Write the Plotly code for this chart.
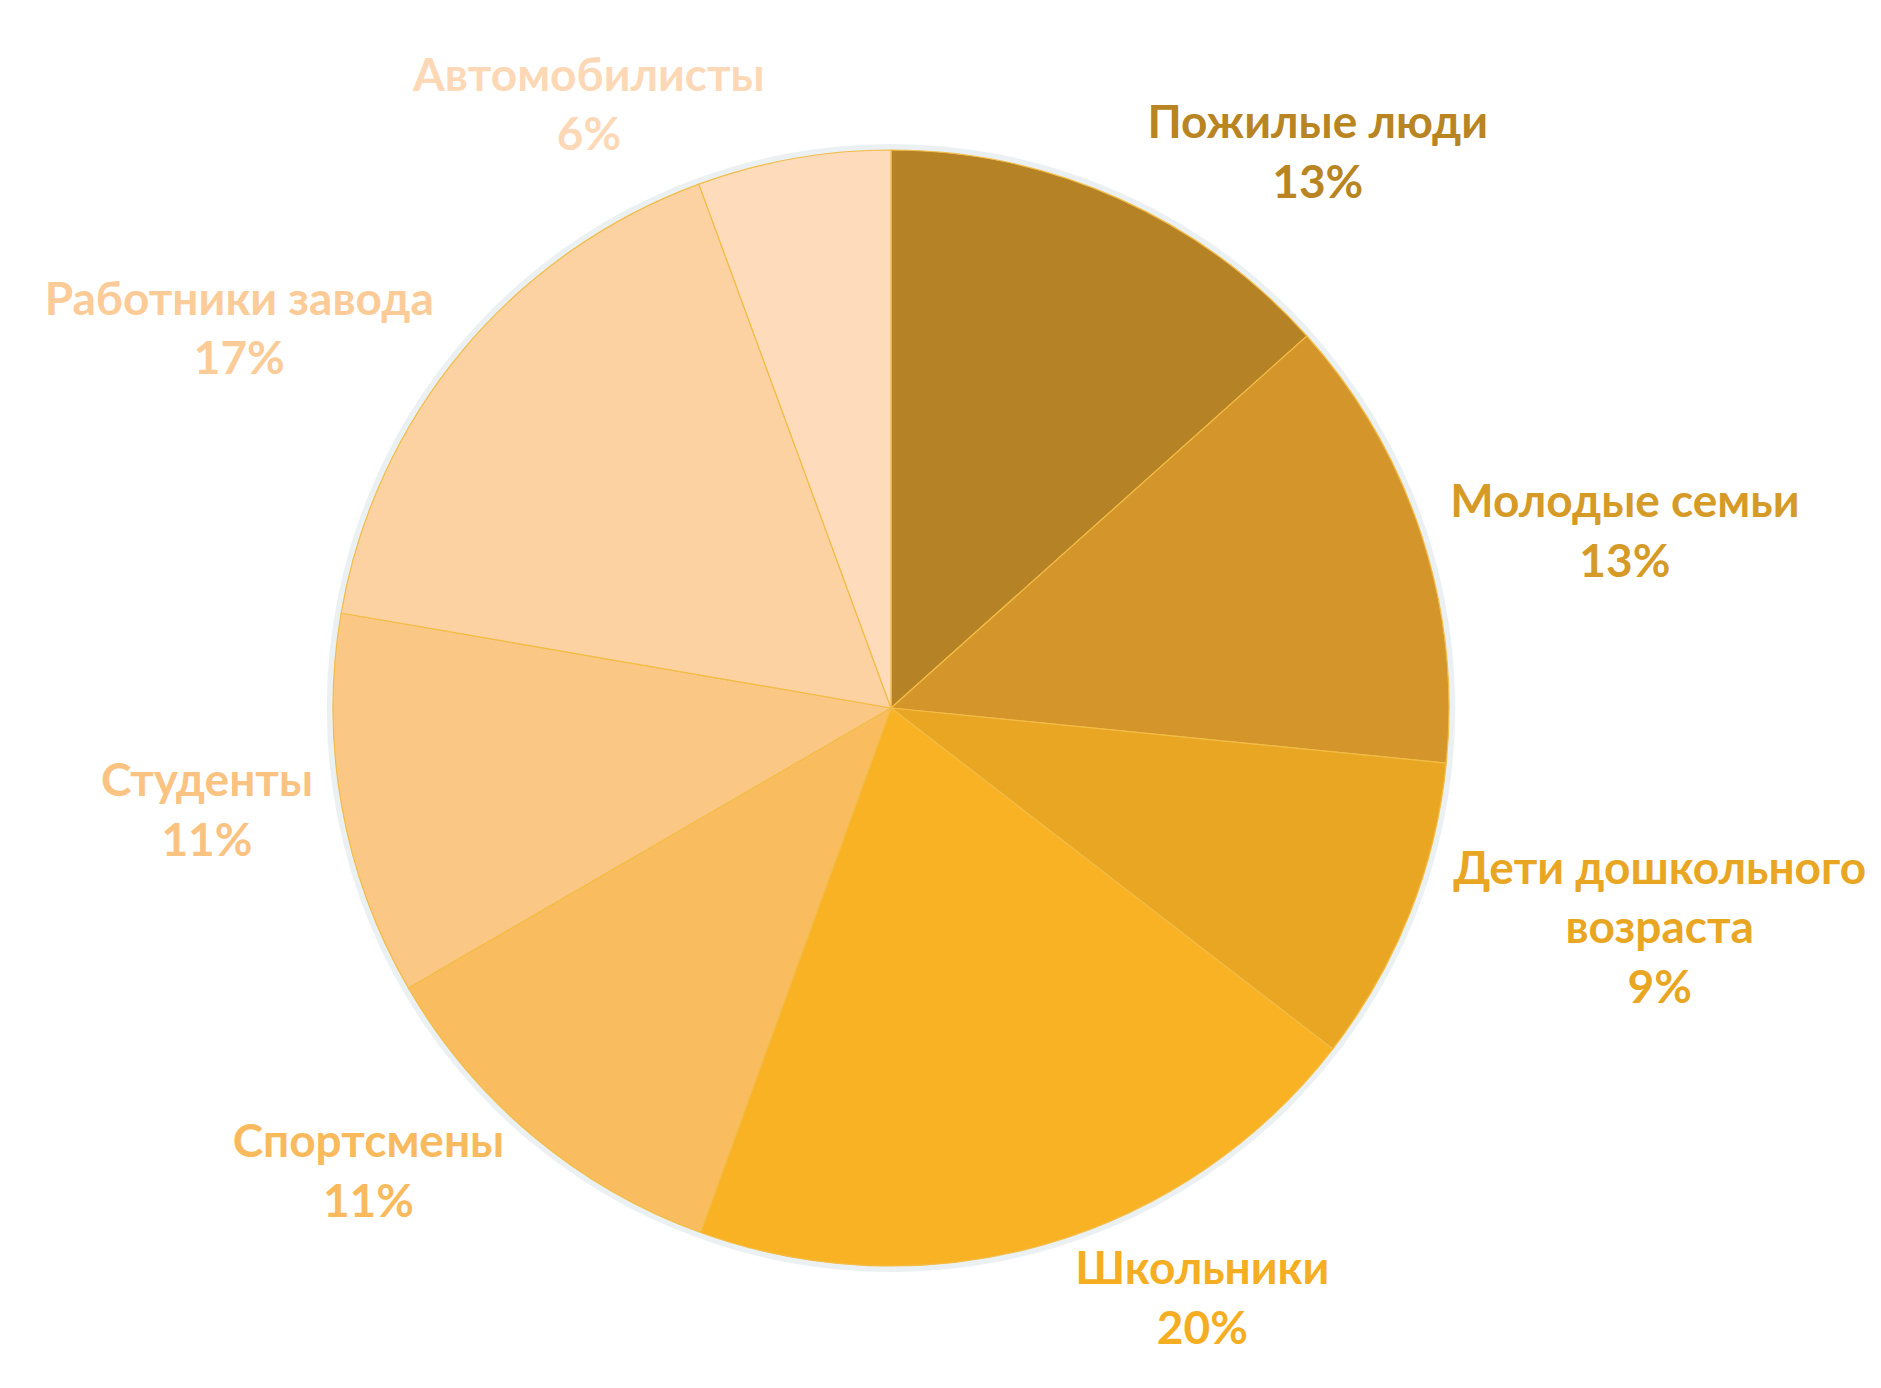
import plotly.graph_objects as go

labels = ["Пожилые люди", "Молодые семьи", "Дети дошкольного<br>возраста", "Школьники",
          "Спортсмены", "Студенты", "Работники завода", "Автомобилисты"]
values = [13.4, 13.2, 8.9, 20.1, 11.1, 11.1, 16.7, 5.6]
colors = ["#B58226", "#D4962A", "#E9A623", "#F9B224", "#F9BD5F", "#FBC785", "#FCD2A2", "#FDDBBB"]
text_colors = ["#B88522", "#D69A26", "#E9A623", "#F5AE22", "#F8BA5C", "#FAC382", "#FBCB98", "#FDD8B6"]

W, H = 1881, 1388
cx, cy, r = 883, 700, 558

def dom(rad):
    return dict(x=[(cx - rad) / W, (cx + rad) / W], y=[1 - (cy + rad) / H, 1 - (cy - rad) / H])

fig = go.Figure()
# soft shadow ring behind the pie
fig.add_trace(go.Pie(
    values=[1], labels=[""], sort=False, marker=dict(colors=["rgba(205,218,226,0.4)"], line=dict(width=0)),
    textinfo="none", hoverinfo="skip", showlegend=False, domain=dom(r + 6),
))
fig.add_trace(go.Pie(
    labels=labels, values=values, sort=False, direction="clockwise", rotation=0,
    marker=dict(colors=colors, line=dict(color="#F2BC45", width=1.2)),
    textposition="outside", texttemplate="%{label}<br>%{percent:.0%}",
    outsidetextfont=dict(family="Lato", size=46, color=text_colors, weight="bold"),
    showlegend=False, hoverinfo="label+percent",
    domain=dom(r),
    automargin=False,
))
fig.update_layout(
    width=W, height=H, margin=dict(l=0, r=0, t=0, b=0),
    paper_bgcolor="white", plot_bgcolor="white",
    font=dict(family="Lato"),
)
fig.write_html("out.html")
